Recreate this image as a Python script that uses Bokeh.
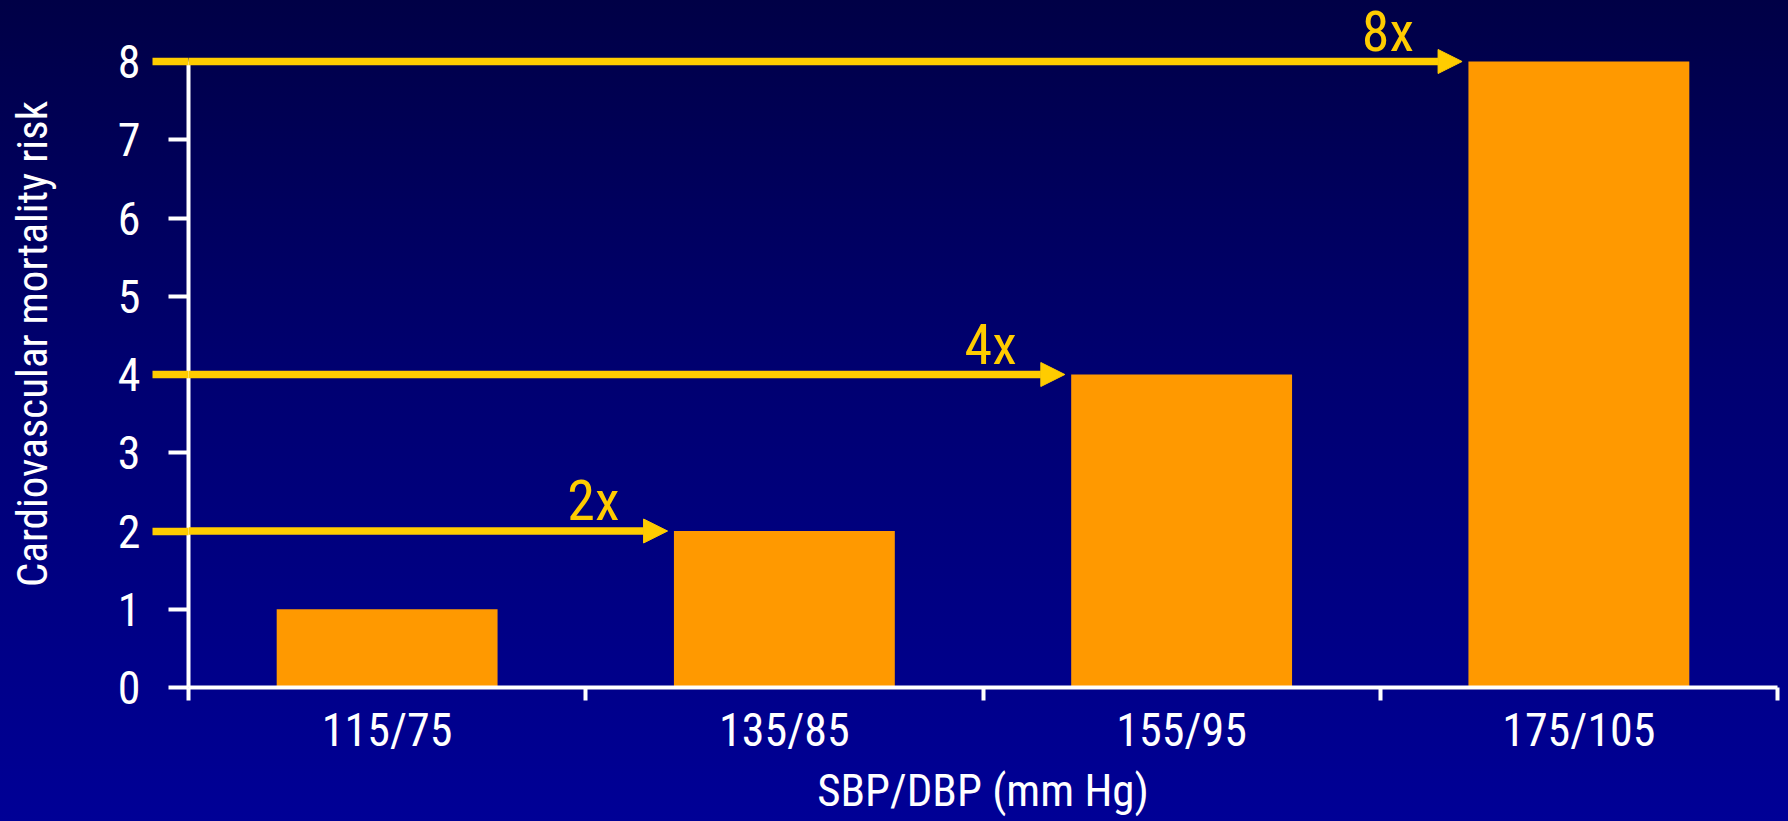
from bokeh.plotting import figure
from bokeh.models import (Range1d, FixedTicker, Arrow, NormalHead, Label, ColumnDataSource,
                          LinearAxis, CustomJSTickFormatter)
from bokeh.embed import file_html
from bokeh.resources import INLINE

# Blood pressure groups and relative cardiovascular mortality risk
categories = ["115/75", "135/85", "155/95", "175/105"]
risk = [1, 2, 4, 8]
y_ticks = [0, 1, 2, 3, 4, 5, 6, 7, 8]

FONT = "Roboto Condensed"
BAR_COLOR = "#FF9900"
ARROW_COLOR = "#FFCC00"
BAR_W = 0.556
PX_PER_UNIT = 78.25          # vertical scale of the frame
TOP_PAD = 61                 # room above the top tick for the arrow label

centers = [i + 0.5 for i in range(len(categories))]
source = ColumnDataSource(dict(x=centers, top=risk))

p = figure(
    width=1788, height=821,
    x_range=Range1d(0, len(categories)),
    y_range=Range1d(0, max(y_ticks) + TOP_PAD / PX_PER_UNIT),
    output_backend="svg", toolbar_location=None,
    min_border_left=188, min_border_right=11, min_border_top=0, min_border_bottom=134,
)
p.background_fill_color = None
p.border_fill_color = None
p.outline_line_color = None
p.styles = {"background": "linear-gradient(to bottom, #000046 0%, #000070 45%, #000096 100%)"}
p.xgrid.visible = False
p.ygrid.visible = False

p.vbar(x="x", top="top", width=BAR_W, bottom=0, source=source,
       fill_color=BAR_COLOR, line_color=None)

# x axis: labels centred under bars, tick marks on group boundaries
xa = p.xaxis[0]
xa.ticker = FixedTicker(ticks=centers, minor_ticks=list(range(len(categories) + 1)))
xa.major_label_overrides = {c: lab for c, lab in zip(centers, categories)}
xa.major_tick_out = 0
xa.major_tick_in = 0
xa.minor_tick_out = 13
xa.minor_tick_in = 0
xa.minor_tick_line_color = "white"
xa.minor_tick_line_width = 4
xa.axis_line_color = "white"
xa.axis_line_width = 4
xa.major_label_text_color = "white"
xa.major_label_text_font = FONT
xa.major_label_text_font_size = "46px"
xa.major_label_standoff = 2
xa.axis_label = "SBP/DBP (mm Hg)"
xa.axis_label_text_color = "white"
xa.axis_label_text_font = FONT
xa.axis_label_text_font_size = "45px"
xa.axis_label_text_font_style = "normal"
xa.axis_label_standoff = 4

ya = p.yaxis[0]
ya.bounds = (0, max(y_ticks))
ya.ticker = FixedTicker(ticks=y_ticks)
ya.major_tick_out = 20
ya.major_tick_in = 0
ya.major_tick_line_color = "white"
ya.major_tick_line_width = 4
ya.minor_tick_line_color = None
ya.axis_line_color = "white"
ya.axis_line_width = 4
ya.major_label_text_color = "white"
ya.major_label_text_font = FONT
ya.major_label_text_font_size = "46px"
ya.major_label_standoff = 28
ya.axis_label = "Cardiovascular mortality risk"
ya.axis_label_text_color = "white"
ya.axis_label_text_font = FONT
ya.axis_label_text_font_size = "43px"
ya.axis_label_text_font_style = "normal"
ya.axis_label_standoff = 58

# stubs of the risk arrows that reach out past the y axis (drawn on top of the white ticks)
stub_axis = LinearAxis(
    ticker=FixedTicker(ticks=risk[1:]),
    formatter=CustomJSTickFormatter(code="return ''"),
    major_tick_out=0, major_tick_in=-36,
    major_tick_line_color=ARROW_COLOR, major_tick_line_width=7.5,
    minor_tick_line_color=None, axis_line_color=None,
    major_label_standoff=0, level="overlay",
)
p.left = [stub_axis] + list(p.left)

# Arrows from the axis to each higher-risk bar, labelled with the multiple of baseline
for i in range(1, len(risk)):
    val = risk[i]
    x_end = centers[i] - BAR_W / 2 - 0.016
    p.add_layout(Arrow(
        end=NormalHead(size=24, fill_color=ARROW_COLOR, line_color=ARROW_COLOR, line_width=1),
        x_start=0, y_start=val, x_end=x_end, y_end=val,
        line_color=ARROW_COLOR, line_width=7.5,
    ))
    p.add_layout(Label(
        x=x_end, y=val, text=f"{val // risk[0]}x",
        x_offset=-48, y_offset=30, text_align="right", text_baseline="alphabetic",
        text_color=ARROW_COLOR, text_font=FONT, text_font_size="56px",
    ))

open("out.html", "w").write(file_html(p, INLINE))
